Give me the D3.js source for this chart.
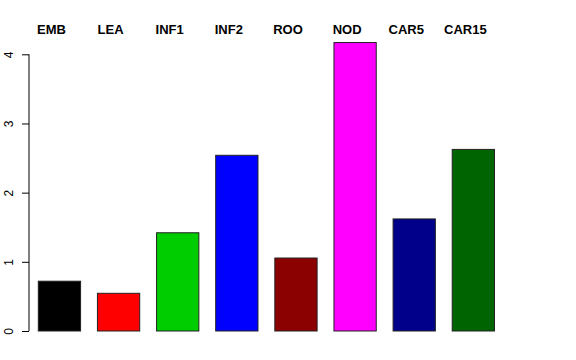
<!DOCTYPE html>
<html>
<head>
<meta charset="utf-8">
<script src="https://cdn.jsdelivr.net/npm/d3@7"></script>
<style>
html,body{margin:0;padding:0;background:#fff;}
svg{display:block;}
text{font-family:"Liberation Sans",Arial,Helvetica,sans-serif;}
</style>
</head>
<body>
<svg id="chart" width="576" height="360"></svg>
<script>
const categories = ["EMB","LEA","INF1","INF2","ROO","NOD","CAR5","CAR15"];
const values = [0.72, 0.545, 1.42, 2.54, 1.055, 4.17, 1.62, 2.625];
const colors = ["#000000","#FF0000","#00CD00","#0000FF","#8B0000","#FF00FF","#00008B","#006400"];
const yTicks = [0, 1, 2, 3, 4];

const svg = d3.select("#chart");

const x = d3.scaleBand()
  .domain(categories)
  .range([38.3, 494.5])
  .paddingInner(0.285)
  .paddingOuter(0);

const y = d3.scaleLinear()
  .domain([0, 4])
  .range([331, 54.3]);

// bars
svg.append("g").selectAll("rect")
  .data(categories)
  .join("rect")
  .attr("x", d => x(d))
  .attr("y", (d, i) => y(values[i]))
  .attr("width", x.bandwidth())
  .attr("height", (d, i) => y(0) - y(values[i]))
  .attr("fill", (d, i) => colors[i])
  .attr("stroke", "#222")
  .attr("stroke-width", 1);

// y axis
const yAxis = d3.axisLeft(y)
  .tickValues(yTicks)
  .tickFormat(d3.format("d"))
  .tickSize(7)
  .tickSizeOuter(0);

const gy = svg.append("g")
  .attr("transform", "translate(29,0)")
  .call(yAxis);
gy.select(".domain").attr("stroke", "#000").attr("d", `M0,${y(0)}V${y(4)}`);
gy.selectAll(".tick line").attr("stroke", "#000");
gy.selectAll(".tick text")
  .attr("font-size", 12)
  .attr("fill", "#000")
  .attr("font-family", "Liberation Sans, Arial, sans-serif")
  .attr("text-anchor", "middle")
  .attr("dy", 0)
  .attr("x", 0)
  .attr("transform", "translate(-16,0) rotate(-90)");

// category labels at top
svg.append("g").selectAll("text")
  .data(categories)
  .join("text")
  .attr("x", d => x(d) + x.bandwidth() / 2 - 8)
  .attr("y", 34)
  .attr("text-anchor", "middle")
  .attr("font-size", 13)
  .attr("font-weight", "bold")
  .attr("fill", "#000")
  .text(d => d);
</script>
</body>
</html>
